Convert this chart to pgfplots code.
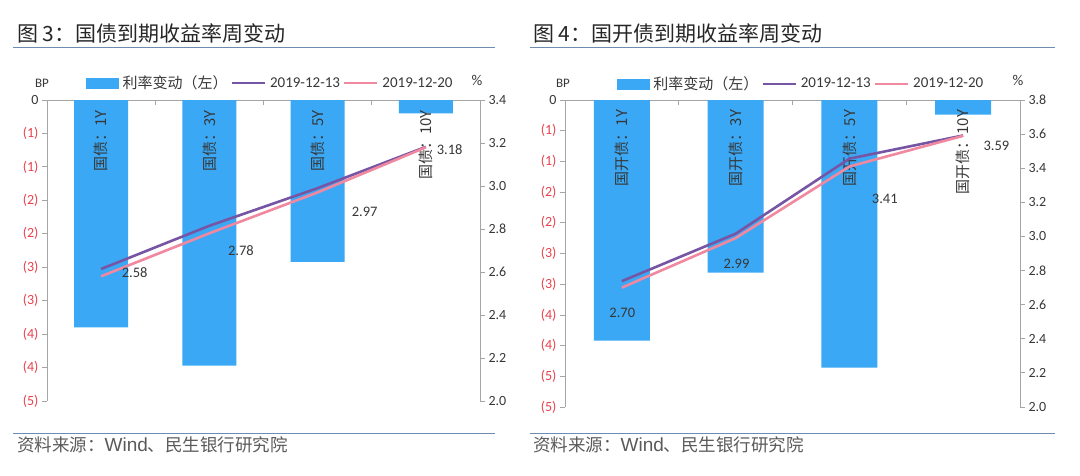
\documentclass[border=0pt]{standalone}
\usepackage{pgfplots}
\pgfplotsset{compat=1.18}
\usepackage{fontspec}
\setmainfont{Carlito}
\newfontfamily\cjk{Noto Sans CJK SC}
\newfontfamily\arial{Liberation Sans}
\definecolor{barblue}{RGB}{58,168,245}
\definecolor{lpurple}{RGB}{118,86,164}
\definecolor{lpink}{RGB}{240,136,160}
\definecolor{tred}{RGB}{232,64,76}
\definecolor{agray}{RGB}{165,165,165}
\definecolor{tgray}{RGB}{55,55,55}
\definecolor{rulec}{RGB}{110,140,175}
\definecolor{fgray}{RGB}{90,90,90}

\tikzset{
  vlab/.style={font=\fontsize{14.5}{14.5}\selectfont, text=tgray, inner sep=0pt},
  clab/.style={font=\cjk\fontsize{15}{15}\selectfont, text=tgray, rotate=90, anchor=east, inner sep=0pt},
}
\pgfplotsset{
  base/.style={scale only axis, xmin=0.5, xmax=4.5, clip=false,
    anchor=south west,
    axis line style={agray, line width=0.8pt},
    tick style={agray, line width=0.8pt},
    major tick length=5pt,
    tick align=outside,
    ticklabel style={font=\fontsize{14}{14}\selectfont, text=tgray},
    /pgf/number format/assume math mode=true},
  barax/.style={base, axis y line*=left, axis x line*=top,
    xtick={1.5,2.5,3.5}, xticklabels={}, xtick style={yshift=-5pt},
    ybar},
  lineax/.style={base, axis y line*=right, axis x line=none,
    legend style={draw=none, fill=none, legend columns=3,
      font=\fontsize{15}{15}\selectfont, text=tgray,
      /tikz/every odd column/.append style={column sep=1pt},
      nodes={inner xsep=3pt}},
  },
  bimg/.style={legend image code/.code={\fill[barblue] (0pt,-5pt) rectangle (32pt,5pt);}},
  pimg/.style={legend image code/.code={\draw[lpurple, line width=2.4pt] (0pt,0pt) -- (33pt,0pt);}},
  kimg/.style={legend image code/.code={\draw[lpink, line width=2.4pt] (0pt,0pt) -- (33pt,0pt);}},
}

\begin{document}
\begin{tikzpicture}

% ---------------- Left chart ----------------
\begin{axis}[barax, at={(47pt,74pt)}, width=433pt, height=301pt,
  ymin=-4.5, ymax=0, bar width=54pt,
  ytick={-4.5,-4,-3.5,-3,-2.5,-2,-1.5,-1,-0.5,0},
  yticklabels={\textcolor{tred}{(5)},\textcolor{tred}{(4)},\textcolor{tred}{(4)},\textcolor{tred}{(3)},\textcolor{tred}{(3)},\textcolor{tred}{(2)},\textcolor{tred}{(2)},\textcolor{tred}{(1)},\textcolor{tred}{(1)},0}]
\addplot[fill=barblue, draw=none] coordinates {(1,-3.40) (2,-3.97) (3,-2.42) (4,-0.20)};
\node[clab] at (axis cs:1,-0.15) {国债：1Y};
\node[clab] at (axis cs:2,-0.15) {国债：3Y};
\node[clab] at (axis cs:3,-0.15) {国债：5Y};
\node[clab] at (axis cs:4,-0.15) {国债：10Y};
\end{axis}

\begin{axis}[lineax, at={(47pt,74pt)}, width=433pt, height=301pt,
  ymin=2, ymax=3.4,
  ytick={2,2.2,2.4,2.6,2.8,3.0,3.2,3.4},
  yticklabels={2.0,2.2,2.4,2.6,2.8,3.0,3.2,3.4},
  legend style={at={(axis description cs:0.517,1.056)}, anchor=center}]
\addlegendimage{bimg}
\addlegendentry{{\cjk 利率变动（左）}}
\addlegendimage{pimg}
\addlegendentry{2019-12-13}
\addlegendimage{kimg}
\addlegendentry{2019-12-20}
\addplot[lpurple, line width=2.6pt, forget plot] coordinates {(1,2.614) (2,2.815) (3,2.99) (4,3.182)};
\addplot[lpink, line width=2.6pt, forget plot] coordinates {(1,2.58) (2,2.78) (3,2.97) (4,3.18)};
\node[vlab] at (axis cs:1.31,2.595) {2.58};
\node[vlab] at (axis cs:2.292,2.698) {2.78};
\node[vlab] at (axis cs:3.435,2.88) {2.97};
\node[vlab] at (axis cs:4.22,3.167) {3.18};
\end{axis}

% ---------------- Right chart ----------------
\begin{axis}[barax, at={(565pt,68pt)}, width=455pt, height=307pt,
  ymin=-5, ymax=0, bar width=56pt,
  ytick={-5,-4.5,-4,-3.5,-3,-2.5,-2,-1.5,-1,-0.5,0},
  yticklabels={\textcolor{tred}{(5)},\textcolor{tred}{(5)},\textcolor{tred}{(4)},\textcolor{tred}{(4)},\textcolor{tred}{(3)},\textcolor{tred}{(3)},\textcolor{tred}{(2)},\textcolor{tred}{(2)},\textcolor{tred}{(1)},\textcolor{tred}{(1)},0}]
\addplot[fill=barblue, draw=none] coordinates {(1,-3.92) (2,-2.81) (3,-4.36) (4,-0.24)};
\node[clab] at (axis cs:1,-0.16) {国开债：1Y};
\node[clab] at (axis cs:2,-0.16) {国开债：3Y};
\node[clab] at (axis cs:3,-0.16) {国开债：5Y};
\node[clab] at (axis cs:4,-0.16) {国开债：10Y};
\end{axis}

\begin{axis}[lineax, at={(565pt,68pt)}, width=455pt, height=307pt,
  ymin=2, ymax=3.8,
  ytick={2,2.2,2.4,2.6,2.8,3.0,3.2,3.4,3.6,3.8},
  yticklabels={2.0,2.2,2.4,2.6,2.8,3.0,3.2,3.4,3.6,3.8},
  legend style={at={(axis description cs:0.52,1.053)}, anchor=center}]
\addlegendimage{bimg}
\addlegendentry{{\cjk 利率变动（左）}}
\addlegendimage{pimg}
\addlegendentry{2019-12-13}
\addlegendimage{kimg}
\addlegendentry{2019-12-20}
\addplot[lpurple, line width=2.6pt, forget plot] coordinates {(1,2.738) (2,3.016) (3,3.456) (4,3.592)};
\addplot[lpink, line width=2.6pt, forget plot] coordinates {(1,2.70) (2,2.99) (3,3.41) (4,3.59)};
\node[vlab] at (axis cs:1.004,2.552) {2.70};
\node[vlab] at (axis cs:2.008,2.838) {2.99};
\node[vlab] at (axis cs:3.311,3.219) {3.41};
\node[vlab] at (axis cs:4.293,3.530) {3.59};
\end{axis}

% ---------------- Titles, units, footers ----------------
\node[anchor=west, inner sep=0pt, font=\cjk\fontsize{21}{21}\selectfont, text=black!85] at (17pt,441.5pt) {图 3：国债到期收益率周变动};
\node[anchor=west, inner sep=0pt, font=\cjk\fontsize{21}{21}\selectfont, text=black!85] at (533pt,441.5pt) {图 4：国开债到期收益率周变动};
\draw[rulec, line width=1pt] (13pt,427.5pt) -- (495pt,427.5pt);
\draw[rulec, line width=1pt] (530pt,427.5pt) -- (1055pt,427.5pt);

\node[font=\fontsize{13}{13}\selectfont, text=tgray] at (42pt,392pt) {BP};
\node[font=\fontsize{15}{15}\selectfont, text=tgray] at (477pt,395pt) {\%};
\node[font=\fontsize{13}{13}\selectfont, text=tgray] at (563pt,392pt) {BP};
\node[font=\fontsize{15}{15}\selectfont, text=tgray] at (1018pt,395pt) {\%};

\draw[rulec, line width=1pt] (13pt,42pt) -- (495pt,42pt);
\draw[rulec, line width=1pt] (530pt,42pt) -- (1055pt,42pt);
\node[anchor=west, inner sep=0pt, text=fgray] at (17pt,30pt) {{\cjk\fontsize{17.5}{17.5}\selectfont 资料来源：}{\arial\fontsize{19}{19}\selectfont Wind}{\cjk\fontsize{17.5}{17.5}\selectfont 、民生银行研究院}};
\node[anchor=west, inner sep=0pt, text=fgray] at (533pt,30pt) {{\cjk\fontsize{17.5}{17.5}\selectfont 资料来源：}{\arial\fontsize{19}{19}\selectfont Wind}{\cjk\fontsize{17.5}{17.5}\selectfont 、民生银行研究院}};

\pgfresetboundingbox
\path (0pt,0pt) rectangle (1080pt,475pt);
\end{tikzpicture}
\end{document}
